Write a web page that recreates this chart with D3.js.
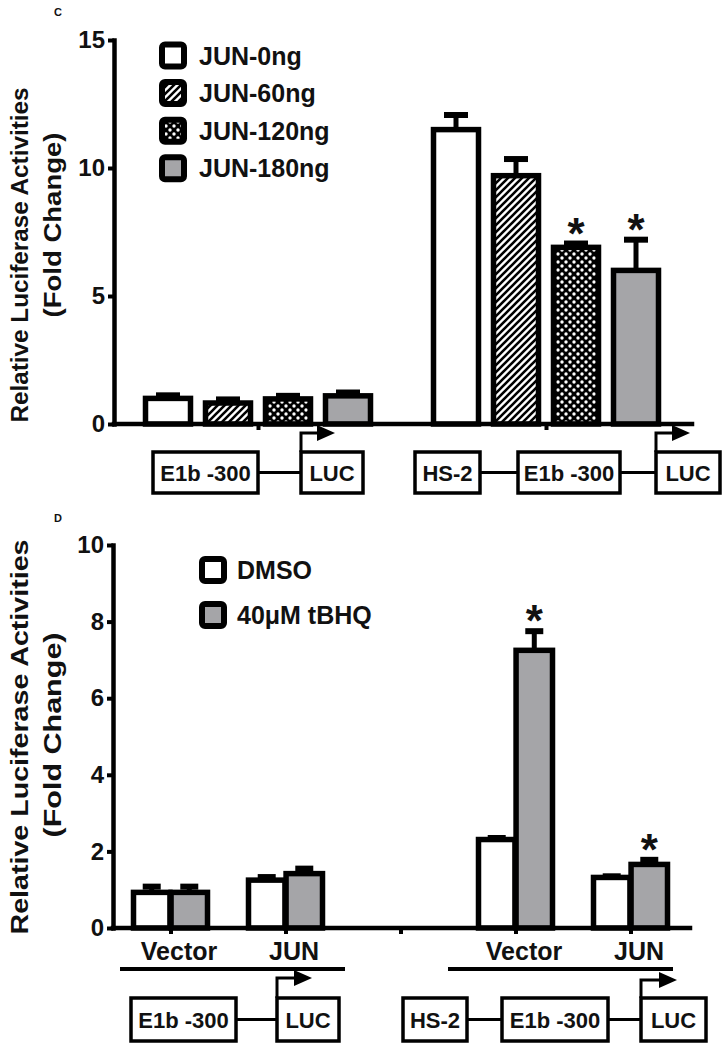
<!DOCTYPE html>
<html>
<head>
<meta charset="utf-8">
<script src="https://cdn.jsdelivr.net/npm/d3@7"></script>
<style>
body { margin: 0; background: #fff; }
text { font-family: "Liberation Sans", Arial, sans-serif; font-weight: bold; fill: #111; }
</style>
</head>
<body>
<svg id="chart" width="728" height="1048"></svg>
<script>
// ---- panel C data
var groupsC = ["E1b -300", "HS-2 E1b -300"];
var seriesC = ["JUN-0ng", "JUN-60ng", "JUN-120ng", "JUN-180ng"];
var meansC  = [[1.0, 0.82, 0.98, 1.1], [11.5, 9.7, 6.9, 6.0]];
var errsC   = [[0.12, 0.14, 0.12, 0.13], [0.57, 0.65, 0.15, 1.2]];
var starsC  = [[0, 0, 0, 0], [0, 0, 1, 1]];
var ticksC  = [0, 5, 10, 15];

// ---- panel D data
var slotsD   = ["vecA", "junA", "gap", "vecB", "junB"];
var slotLabD = ["Vector", "JUN", "", "Vector", "JUN"];
var groupsD  = ["vecA", "junA", "vecB", "junB"];
var seriesD  = ["DMSO", "40\u03bcM tBHQ"];
var meansD   = [[0.93, 0.93], [1.25, 1.42], [2.31, 7.25], [1.32, 1.66]];
var errsD    = [[0.15, 0.15], [0.08, 0.13], [0.04, 0.5], [0.03, 0.12]];
var starsD   = [[0, 0], [0, 0], [0, 1], [0, 1]];
var ticksD   = [0, 2, 4, 6, 8, 10];

var gray = "#a5a5a8";
var svg = d3.select("#chart");
var defs = svg.append("defs");

var hatch = defs.append("pattern").attr("id", "hatch")
  .attr("patternUnits", "userSpaceOnUse").attr("width", 7).attr("height", 7);
hatch.append("rect").attr("width", 7).attr("height", 7).attr("fill", "#fff");
hatch.append("path").attr("d", "M-1,1 l2,-2 M0,7 l7,-7 M6,8 l2,-2")
  .attr("stroke", "#000").attr("stroke-width", 2.6);

var dots = defs.append("pattern").attr("id", "dots")
  .attr("patternUnits", "userSpaceOnUse").attr("width", 8).attr("height", 8);
dots.append("rect").attr("width", 8).attr("height", 8).attr("fill", "#000");
dots.append("circle").attr("cx", 2).attr("cy", 2).attr("r", 1.7).attr("fill", "#fff");
dots.append("circle").attr("cx", 6).attr("cy", 6).attr("r", 1.7).attr("fill", "#fff");

var fillsC = ["#fff", "url(#hatch)", "url(#dots)", gray];
var fillsD = ["#fff", gray];

function styleAxis(ax) {
  ax.select(".domain").attr("stroke", "#000").attr("stroke-width", 4.5).attr("stroke-linecap", "square");
  ax.selectAll(".tick line").attr("stroke", "#000").attr("stroke-width", 4);
  ax.selectAll(".tick text").style("font-size", "24px").attr("fill", "#111");
}

function yLabel(x, cy, txt, len) {
  svg.append("text")
    .attr("transform", "translate(" + x + "," + cy + ") rotate(-90)")
    .attr("text-anchor", "middle")
    .attr("textLength", len).attr("lengthAdjust", "spacingAndGlyphs")
    .style("font-size", "24px")
    .text(txt);
}

function drawBars(g, groups, series, means, errs, stars, fills, x, b, y, capW) {
  groups.forEach(function (grp, i) {
    series.forEach(function (s, j) {
      var cx = x(grp) + b(s) + b.bandwidth() / 2;
      var top = y(means[i][j] + errs[i][j]);
      g.append("line").attr("x1", cx).attr("x2", cx)
        .attr("y1", y(means[i][j])).attr("y2", top)
        .attr("stroke", "#000").attr("stroke-width", 5);
      g.append("line").attr("x1", cx - capW / 2).attr("x2", cx + capW / 2)
        .attr("y1", top).attr("y2", top)
        .attr("stroke", "#000").attr("stroke-width", 6);
      g.append("rect")
        .attr("x", x(grp) + b(s)).attr("width", b.bandwidth())
        .attr("y", y(means[i][j])).attr("height", y(0) - y(means[i][j]))
        .attr("fill", fills[j]).attr("stroke", "#000").attr("stroke-width", 5.5);
      if (stars[i][j]) {
        g.append("text").attr("x", cx).attr("y", top + 5)
          .attr("text-anchor", "middle").style("font-size", "44px").text("*");
      }
    });
  });
}

function legendBox(x, cy, fill) {
  svg.append("rect").attr("x", x).attr("y", cy - 11).attr("width", 22).attr("height", 22)
    .attr("rx", 3).attr("fill", fill).attr("stroke", "#000").attr("stroke-width", 6);
}

// boxes: [label, x0, x1], arrow on last box
function construct(boxes, y0, y1, arrowTop, arrowEnd) {
  var g = svg.append("g");
  var mid = (y0 + y1) / 2;
  for (var k = 0; k < boxes.length - 1; k++) {
    g.append("line").attr("x1", boxes[k][2]).attr("x2", boxes[k + 1][1])
      .attr("y1", mid).attr("y2", mid).attr("stroke", "#000").attr("stroke-width", 3);
  }
  boxes.forEach(function (bx) {
    g.append("rect").attr("x", bx[1]).attr("y", y0).attr("width", bx[2] - bx[1]).attr("height", y1 - y0)
      .attr("fill", "#fff").attr("stroke", "#000").attr("stroke-width", 3.5);
    g.append("text").attr("x", (bx[1] + bx[2]) / 2).attr("y", mid + 8)
      .attr("text-anchor", "middle").style("font-size", "22px").text(bx[0]);
  });
  var ax = boxes[boxes.length - 1][1];
  g.append("path").attr("d", "M" + ax + "," + y0 + " V" + arrowTop + " H" + (arrowEnd - 14))
    .attr("fill", "none").attr("stroke", "#000").attr("stroke-width", 3);
  g.append("path").attr("d", "M" + (arrowEnd - 18) + "," + (arrowTop - 8) + " L" + arrowEnd + "," + arrowTop +
    " L" + (arrowEnd - 18) + "," + (arrowTop + 8) + "Z").attr("fill", "#000");
}

// ================= panel C
var xC = d3.scalePoint().domain(groupsC).range([114, 690]).padding(0.5);
var bC = d3.scaleBand().domain(seriesC).range([-112.5, 112.5]).paddingInner(0.25);
var yC = d3.scaleLinear().domain([0, 15]).range([424, 40]);

svg.append("text").attr("x", 54).attr("y", 16).style("font-size", "11px").attr("fill", "#333").text("C");

var gC = svg.append("g");
drawBars(gC, groupsC, seriesC, meansC, errsC, starsC, fillsC, xC, bC, yC, 24);

var axC = svg.append("g").attr("transform", "translate(114,0)")
  .call(d3.axisLeft(yC).tickValues(ticksC).tickSize(6).tickSizeOuter(0).tickPadding(3));
styleAxis(axC);
var axCx = svg.append("g").attr("transform", "translate(0," + yC(0) + ")")
  .call(d3.axisBottom(xC).tickSize(6).tickSizeOuter(0).tickFormat(""));
styleAxis(axCx);
axCx.select(".domain").attr("d", "M114,0H692");

yLabel(28, 255, "Relative Luciferase Activities", 335);
yLabel(61, 225, "(Fold Change)", 185);

seriesC.forEach(function (s, j) {
  var cy = 55.5 + j * 37.6;
  legendBox(162, cy, fillsC[j]);
  svg.append("text").attr("x", 199).attr("y", cy + 9).style("font-size", "25px").text(s);
});

construct([["E1b -300", 153, 258], ["LUC", 301, 363]], 452, 493, 433, 335);
construct([["HS-2", 415, 480], ["E1b -300", 518, 620], ["LUC", 656, 720]], 452, 493, 433, 690);

// ================= panel D
var xD = d3.scalePoint().domain(slotsD).range([113, 688]).padding(0.5);
var bD = d3.scaleBand().domain(seriesD).range([-37, 37]).paddingInner(0.03);
var yD = d3.scaleLinear().domain([0, 10]).range([928, 545]);

svg.append("text").attr("x", 54).attr("y", 522).style("font-size", "11px").attr("fill", "#333").text("D");

var gD = svg.append("g");
drawBars(gD, groupsD, seriesD, meansD, errsD, starsD, fillsD, xD, bD, yD, 18);

var axD = svg.append("g").attr("transform", "translate(113,0)")
  .call(d3.axisLeft(yD).tickValues(ticksD).tickSize(6).tickSizeOuter(0).tickPadding(3));
styleAxis(axD);
var axDx = svg.append("g").attr("transform", "translate(0," + yD(0) + ")")
  .call(d3.axisBottom(xD).tickSize(6).tickSizeOuter(0)
    .tickFormat(function (d, i) { return slotLabD[i]; }).tickPadding(8));
styleAxis(axDx);
axDx.select(".domain").attr("d", "M113,0H690");
axDx.selectAll(".tick text").attr("dx", 8).style("font-size", "25px");

svg.append("line").attr("x1", 120).attr("x2", 345).attr("y1", 969).attr("y2", 969)
  .attr("stroke", "#000").attr("stroke-width", 4);
svg.append("line").attr("x1", 448).attr("x2", 673).attr("y1", 969).attr("y2", 969)
  .attr("stroke", "#000").attr("stroke-width", 4);

yLabel(28, 737, "Relative Luciferase Activities", 395);
yLabel(61, 735, "(Fold Change)", 205);

seriesD.forEach(function (s, j) {
  var cy = 570 + j * 45;
  legendBox(202, cy, fillsD[j]);
  svg.append("text").attr("x", 237).attr("y", cy + 9).style("font-size", "25px").text(s);
});

construct([["E1b -300", 131, 236], ["LUC", 277, 339]], 998, 1041, 978, 312);
construct([["HS-2", 403, 467], ["E1b -300", 502, 608], ["LUC", 641, 706]], 998, 1041, 980, 677);
</script>
</body>
</html>
